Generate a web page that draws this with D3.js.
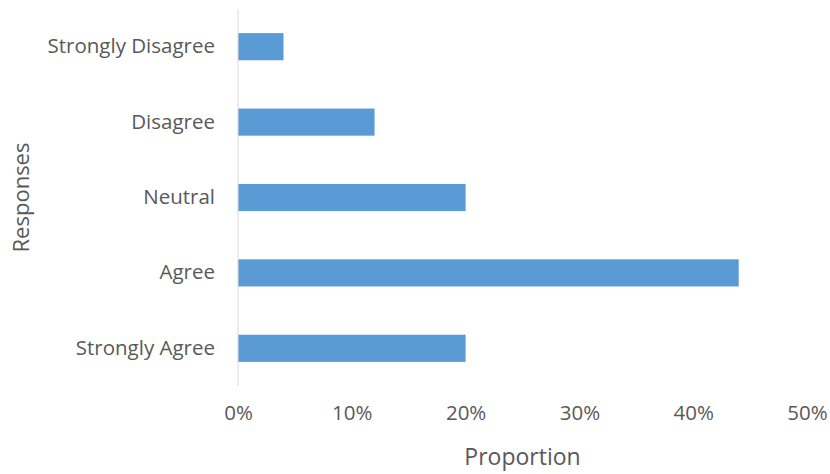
<!DOCTYPE html>
<html>
<head>
<meta charset="utf-8">
<script src="https://d3js.org/d3.v7.min.js"></script>
<style>
  body { margin: 0; background: #fff; }
  text { font-family: "Open Sans", "Noto Sans", sans-serif; fill: #595959; }
</style>
</head>
<body>
<div id="chart"></div>
<script>
// responses top to bottom, as in the picture
var categories = ['Strongly Disagree', 'Disagree', 'Neutral', 'Agree', 'Strongly Agree'];
var proportions = [0.04, 0.12, 0.20, 0.44, 0.20];
var xTicks = [0, 0.1, 0.2, 0.3, 0.4, 0.5];

var width = 830, height = 474;
var margin = {top: 9, right: 23, bottom: 88, left: 238};

var svg = d3.select('#chart')
  .append('svg')
  .attr('width', width)
  .attr('height', height);

var x = d3.scaleLinear()
  .domain([0, 0.5])
  .range([margin.left, width - margin.right]);

var y = d3.scaleBand()
  .domain(categories)
  .range([margin.top, height - margin.bottom])
  .paddingInner(0.64)
  .paddingOuter(0.32);

var data = categories.map(function(c, i) {
  return {name: c, value: proportions[i]};
});

svg.selectAll('rect.bar')
  .data(data)
  .enter()
  .append('rect')
    .attr('class', 'bar')
    .attr('x', x(0))
    .attr('y', function(d) { return y(d.name); })
    .attr('width', function(d) { return x(d.value) - x(0); })
    .attr('height', y.bandwidth())
    .attr('fill', '#5b9bd5');

// vertical axis line
svg.append('line')
  .attr('x1', x(0)).attr('x2', x(0))
  .attr('y1', margin.top).attr('y2', height - margin.bottom)
  .attr('stroke', '#d9d9d9')
  .attr('stroke-width', 1);

var xAxis = svg.append('g')
  .attr('transform', 'translate(0,' + (height - margin.bottom) + ')')
  .call(d3.axisBottom(x).tickValues(xTicks).tickFormat(d3.format('.0%')).tickSize(0).tickPadding(19));
xAxis.select('.domain').remove();
xAxis.selectAll('text').style('font-size', '20.5px').attr('fill', '#595959');

var yAxis = svg.append('g')
  .attr('transform', 'translate(' + (x(0) - 9) + ',0)')
  .call(d3.axisLeft(y).tickSize(0).tickPadding(14));
yAxis.select('.domain').remove();
yAxis.selectAll('text').style('font-size', '20.5px').attr('fill', '#595959');

svg.append('text')
  .attr('x', (x(0) + x(0.5)) / 2)
  .attr('y', 465)
  .attr('text-anchor', 'middle')
  .style('font-size', '23px')
  .text('Proportion');

svg.append('text')
  .attr('transform', 'translate(29,' + ((margin.top + height - margin.bottom) / 2) + ') rotate(-90)')
  .attr('text-anchor', 'middle')
  .style('font-size', '22px')
  .text('Responses');
</script>
</body>
</html>
